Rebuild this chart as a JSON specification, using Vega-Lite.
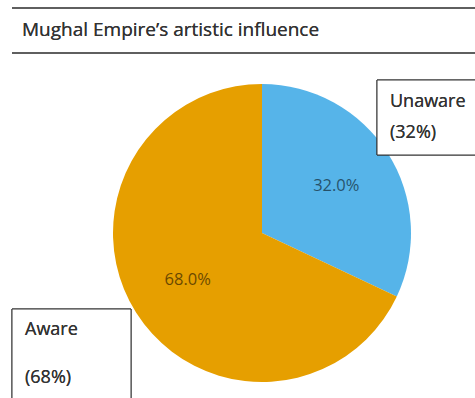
{
  "$schema": "https://vega.github.io/schema/vega-lite/v6.json",
  "width": 426,
  "height": 330,
  "autosize": {"type": "none"},
  "padding": {"left": 49, "top": 68, "right": 0, "bottom": 0},
  "background": "white",
  "config": {"view": {"stroke": null}, "font": "Open Sans"},
  "data": {"values": [
    {"category": "Unaware", "share": 0.32},
    {"category": "Aware", "share": 0.68}
  ]},
  "layer": [
    {
      "mark": {"type": "arc", "outerRadius": 149, "stroke": null},
      "encoding": {
        "theta": {"field": "share", "type": "quantitative", "stack": true},
        "order": {"field": "category", "sort": "descending"},
        "color": {"field": "category", "type": "nominal", "legend": null,
          "scale": {"domain": ["Unaware", "Aware"], "range": ["#56B4E9", "#E69F00"]}}
      }
    },
    {
      "mark": {"type": "text", "radius": 88, "fontSize": 16.5, "fill": "black", "opacity": 0.55},
      "encoding": {
        "theta": {"field": "share", "type": "quantitative", "stack": true},
        "order": {"field": "category", "sort": "descending"},
        "text": {"field": "share", "type": "quantitative", "format": ".1%"},
        "detail": {"field": "category"}
      }
    },
    {
      "mark": {"type": "rule", "stroke": "#555555", "strokeWidth": 1.5},
      "encoding": {"x": {"value": -37}, "x2": {"value": 426}, "y": {"value": -60}, "y2": {"value": -60}}
    },
    {
      "mark": {"type": "rule", "stroke": "#555555", "strokeWidth": 1.5},
      "encoding": {"x": {"value": -37}, "x2": {"value": 426}, "y": {"value": -15}, "y2": {"value": -15}}
    },
    {
      "mark": {"type": "text", "x": -27, "y": -38, "align": "left", "baseline": "middle", "fontSize": 19, "fill": "#333333", "text": "Mughal Empire’s artistic influence"},
      "encoding": {}
    },
    {
      "mark": {"type": "rect", "x": 328, "x2": 436, "y": 12, "y2": 87, "fill": "white", "stroke": "#333333", "strokeWidth": 1},
      "encoding": {}
    },
    {
      "mark": {"type": "rect", "x": -37, "x2": 82, "y": 241, "y2": 345, "fill": "white", "stroke": "#333333", "strokeWidth": 1},
      "encoding": {}
    },
    {
      "mark": {"type": "text", "x": 341, "y": 34, "align": "left", "baseline": "middle", "fontSize": 18, "fill": "#333333", "text": "Unaware"},
      "encoding": {}
    },
    {
      "mark": {"type": "text", "x": 341, "y": 65, "align": "left", "baseline": "middle", "fontSize": 18, "fill": "#333333", "text": "(32%)"},
      "encoding": {}
    },
    {
      "mark": {"type": "text", "x": -24, "y": 262, "align": "left", "baseline": "middle", "fontSize": 18, "fill": "#333333", "text": "Aware"},
      "encoding": {}
    },
    {
      "mark": {"type": "text", "x": -24, "y": 310, "align": "left", "baseline": "middle", "fontSize": 18, "fill": "#333333", "text": "(68%)"},
      "encoding": {}
    }
  ]
}
